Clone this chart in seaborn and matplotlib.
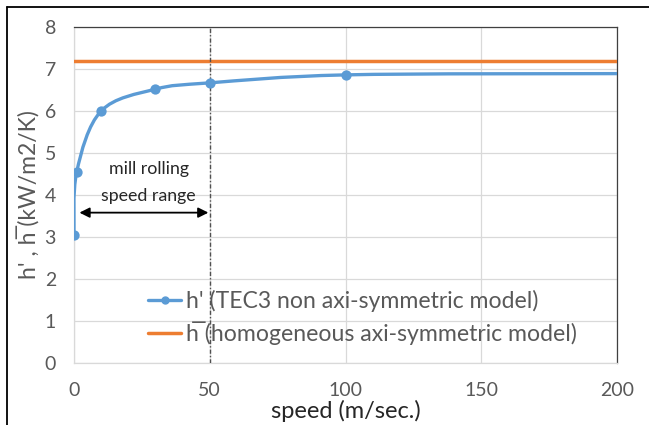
import numpy as np
import matplotlib
matplotlib.use("Agg")
import matplotlib.pyplot as plt
from matplotlib.path import Path
from matplotlib.patches import PathPatch
from matplotlib.lines import Line2D
import seaborn as sns
import pandas as pd

# Heat transfer coefficient vs. speed
speed = [0, 1, 10, 30, 50, 100, 200]
h_prime = [3.05, 4.55, 6.0, 6.52, 6.67, 6.86, 6.89]
marker_count = 6  # the last value is where the curve leaves the axes window
h_bar_speed = [0, 200]
h_bar = [7.2, 7.2]

x_ticks = [0, 50, 100, 150, 200]
y_ticks = [0, 1, 2, 3, 4, 5, 6, 7, 8]
range_limit = 50

BLUE = "#5b9bd5"
ORANGE = "#ed7d31"
GRID = "#d9d9d9"
TICK = "#595959"

sns.set_theme(style="white")
plt.rcParams["font.family"] = ["Lato", "DejaVu Sans"]

fig = plt.figure(figsize=(6.49, 4.25), dpi=100)
ax = fig.add_axes([74 / 649, 1 - 363 / 425, 543 / 649, 336 / 425])

ax.set_xlim(0, 200)
ax.set_ylim(0, 8)
ax.set_xticks(x_ticks)
ax.set_yticks(y_ticks)
ax.grid(True, color=GRID, lw=0.9)
ax.set_axisbelow(True)

for side in ("top", "right"):
    ax.spines[side].set_color("#404040")
    ax.spines[side].set_linewidth(0.9)
for side in ("left", "bottom"):
    ax.spines[side].set_color(GRID)
    ax.spines[side].set_linewidth(0.9)

ax.tick_params(axis="both", length=0, labelsize=14, colors=TICK)
ax.tick_params(axis="x", pad=14)
ax.tick_params(axis="y", pad=13)

# constant model
df_bar = pd.DataFrame({"speed": h_bar_speed, "h": h_bar})
sns.lineplot(data=df_bar, x="speed", y="h", ax=ax, color=ORANGE, lw=2.5,
             legend=False, zorder=3)

# smoothed curve through the points (cubic Bezier segments, Catmull-Rom tangents)
pts = np.column_stack([speed, h_prime]).astype(float)
verts = [pts[0]]
codes = [Path.MOVETO]
n = len(pts)
for i in range(n - 1):
    p_prev = pts[i - 1] if i > 0 else pts[i]
    p0, p1 = pts[i], pts[i + 1]
    p_next = pts[i + 2] if i + 2 < n else pts[i + 1]
    c1 = p0 + (p1 - p_prev) / 6.0
    c2 = p1 - (p_next - p0) / 6.0
    verts += [c1, c2, p1]
    codes += [Path.CURVE4] * 3
curve = PathPatch(Path(verts, codes), facecolor="none", edgecolor=BLUE,
                  lw=2.4, zorder=4, capstyle="round", joinstyle="round")
curve.set_transform(ax.transData)
ax.add_patch(curve)

df_pts = pd.DataFrame({"speed": speed[:marker_count], "h": h_prime[:marker_count]})
sns.scatterplot(data=df_pts, x="speed", y="h", ax=ax, color=BLUE, s=55,
                edgecolor=BLUE, linewidth=0, zorder=5, legend=False)

# mill rolling speed range
ax.axvline(range_limit, color="#505050", lw=1.0, ls=(0, (3, 1.5, 1, 1.5)), zorder=4)
ax.annotate("", xy=(2, 3.58), xytext=(range_limit - 0.5, 3.58),
            arrowprops=dict(arrowstyle="<|-|>", color="black", lw=1.3,
                            mutation_scale=15, shrinkA=0, shrinkB=0))
ax.text(27.5, 4.62, "mill rolling", ha="center", va="center",
        fontsize=12.8, color="#262626")
ax.text(27.5, 3.98, "speed range", ha="center", va="center",
        fontsize=12.8, color="#262626")

ax.set_xlabel("speed (m/sec.)", fontsize=17, color="#262626")
ax.xaxis.set_label_coords(0.5, -0.11)
ax.set_ylabel("h' , h\u0305 (kW/m2/K)", fontsize=16.5, color=TICK)
ax.yaxis.set_label_coords(-0.062, 0.5)

handles = [
    Line2D([], [], color=BLUE, lw=2.4, marker="o", markersize=5),
    Line2D([], [], color=ORANGE, lw=2.5),
]
labels = ["h' (TEC3 non axi-symmetric model)",
          "h\u0305 (homogeneous axi-symmetric model)"]
ax.legend(handles, labels, loc="center left", bbox_to_anchor=(0.12, 0.135),
          frameon=False, fontsize=16.6, labelcolor=TICK, handlelength=1.4,
          handletextpad=0.25, labelspacing=0.38, borderaxespad=0)

# outer border
fig.add_artist(Line2D([7 / 649, 7 / 649], [0, 1 - 7 / 425], color="black", lw=1.3))
fig.add_artist(Line2D([7 / 649, 1], [1 - 7 / 425, 1 - 7 / 425], color="black", lw=1.3))

fig.savefig("out.png", dpi=100)
